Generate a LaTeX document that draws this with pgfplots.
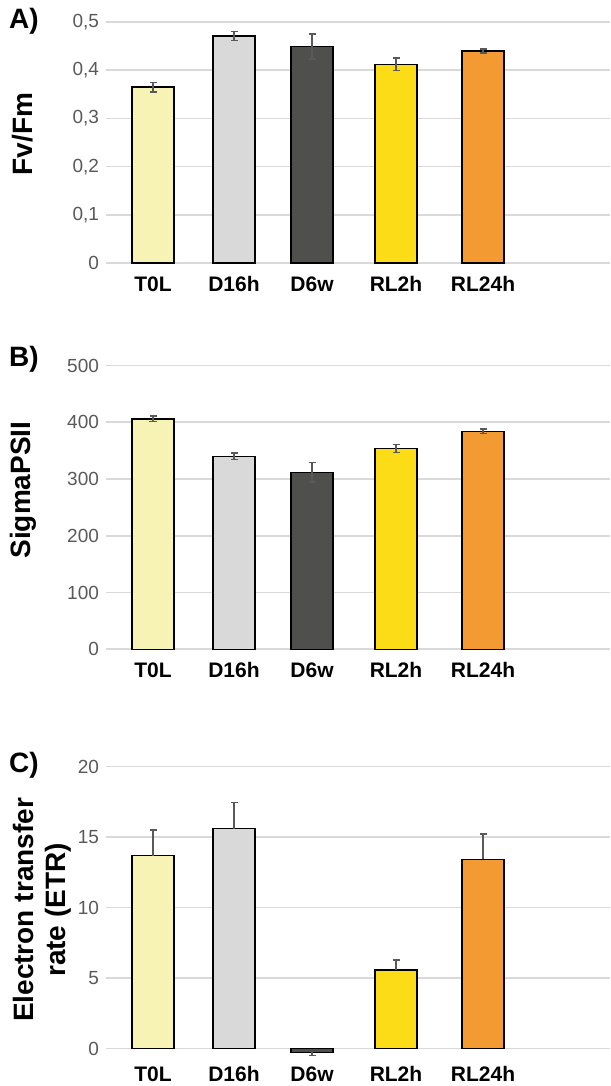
\documentclass[border=0pt]{standalone}
\usepackage{pgfplots}
\pgfplotsset{compat=1.18}
\usepackage{fontspec}
\setmainfont{Liberation Sans}
\definecolor{cT}{HTML}{F7F3B5}
\definecolor{cD}{HTML}{D9D9D9}
\definecolor{cW}{HTML}{4F4F4D}
\definecolor{cR}{HTML}{FCDC17}
\definecolor{cO}{HTML}{F39A33}
\definecolor{gridc}{HTML}{D9D9D9}
\definecolor{tickc}{HTML}{595959}
\definecolor{errc}{HTML}{595959}
\pgfplotsset{
 panel/.style={
  scale only axis, width=252pt, xmin=106, xmax=610, ymin=0,
  ybar, bar shift=0pt, bar width=42,
  axis line style={draw=none}, major tick style={draw=none},
  ymajorgrids, grid style={color=gridc, line width=0.8pt},
  xtick={153,234,312,396,483}, xticklabels={T0L,D16h,D6w,RL2h,RL24h},
  xticklabel style={font=\fontsize{10.5}{12}\selectfont\bfseries, text=black, anchor=base},
  yticklabel style={font=\fontsize{9.5}{11}\selectfont, text=tickc},
  /pgf/number format/assume math mode=true,
  clip=false,
  every axis y label/.style={rotate=90, anchor=center, font=\fontsize{14}{16}\selectfont\bfseries, align=center},
  every axis plot/.append style={draw=black, line width=0.7pt},
  error bars/y dir=both, error bars/y explicit,
  error bars/error bar style={color=errc, line width=0.7pt},
  error bars/error mark options={rotate=90, mark size=1.75pt, color=errc, line width=0.7pt},
 }
}
\begin{document}
\begin{tikzpicture}
\useasboundingbox (0,0) rectangle (305pt,543pt);
% Panel A
\begin{axis}[panel, at={(53pt,411.5pt)}, anchor=south west, height=120.5pt, ymax=0.5,
  ytick={0,0.1,0.2,0.3,0.4,0.5},
  yticklabel style={/pgf/number format/.cd, use comma, fixed, precision=1},
  xticklabel style={yshift=-9.75pt},
  ylabel={Fv/Fm},
  every axis y label/.append style={at={(axis description cs:-0.165,0.535)}}]
\addplot[fill=cT] coordinates {(153,0.365) +- (0,0.010)};
\addplot[fill=cD] coordinates {(234,0.471) +- (0,0.009)};
\addplot[fill=cW] coordinates {(312,0.449) +- (0,0.026)};
\addplot[fill=cR] coordinates {(396,0.412) +- (0,0.013)};
\addplot[fill=cO] coordinates {(483,0.440) +- (0,0.004)};
\node[font=\fontsize{14}{16}\selectfont\bfseries] at (rel axis cs:-0.163,1.004) {A)};
\end{axis}
% Panel B
\begin{axis}[panel, at={(53pt,218.35pt)}, anchor=south west, height=141.9pt, ymax=500,
  ytick={0,100,200,300,400,500},
  xticklabel style={yshift=-10pt},
  ylabel={SigmaPSII},
  every axis y label/.append style={at={(axis description cs:-0.165,0.561)}}]
\addplot[fill=cT] coordinates {(153,406) +- (0,5)};
\addplot[fill=cD] coordinates {(234,340) +- (0,6)};
\addplot[fill=cW] coordinates {(312,312) +- (0,17)};
\addplot[fill=cR] coordinates {(396,354) +- (0,7)};
\addplot[fill=cO] coordinates {(483,384) +- (0,4)};
\node[font=\fontsize{14}{16}\selectfont\bfseries] at (rel axis cs:-0.163,1.023) {B)};
\end{axis}
% Panel C
\begin{axis}[panel, at={(53pt,18.65pt)}, anchor=south west, height=141pt, ymax=20,
  ytick={0,5,10,15,20},
  xticklabel style={yshift=-12.25pt},
  ylabel={Electron transfer\\rate (ETR)},
  every axis y label/.append style={at={(axis description cs:-0.127,0.492)}}]
\addplot[fill=cT, error bars/y dir=plus] coordinates {(153,13.7) +- (0,1.8)};
\addplot[fill=cD, error bars/y dir=plus] coordinates {(234,15.6) +- (0,1.85)};
\addplot[fill=cW, error bars/y dir=minus] coordinates {(312,-0.25) +- (0,0.25)};
\addplot[fill=cR, error bars/y dir=plus] coordinates {(396,5.58) +- (0,0.7)};
\addplot[fill=cO, error bars/y dir=plus] coordinates {(483,13.43) +- (0,1.8)};
\node[font=\fontsize{14}{16}\selectfont\bfseries] at (rel axis cs:-0.163,1.006) {C)};
\end{axis}
\end{tikzpicture}
\end{document}
